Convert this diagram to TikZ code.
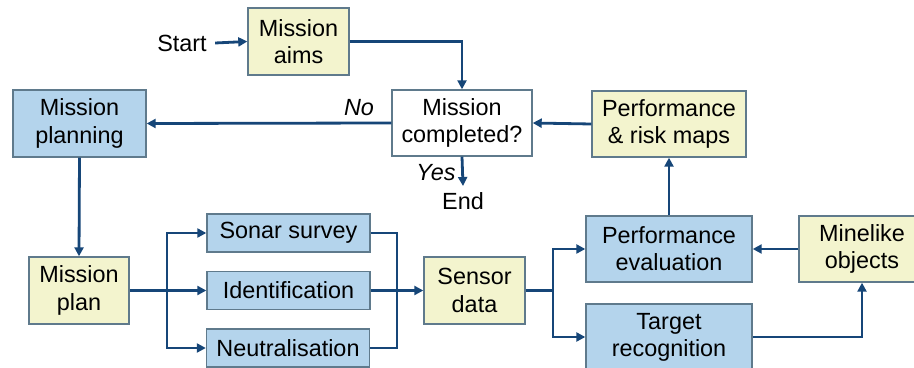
\documentclass[tikz,border=0pt]{standalone}
\usepackage{fontspec}
\setmainfont{Liberation Sans}
\usetikzlibrary{arrows.meta}
\definecolor{bluefill}{RGB}{180,212,236}
\definecolor{yellowfill}{RGB}{243,244,206}
\definecolor{boxborder}{RGB}{95,122,140}
\definecolor{arrowcol}{RGB}{22,70,120}
\begin{document}
\begin{tikzpicture}[x=0.5pt,y=-0.5pt,
  base/.style={draw=boxborder,line width=0.7pt,align=center,inner sep=0pt,
    font=\fontsize{11.7}{13.6}\selectfont},
  bluebox/.style={base,fill=bluefill},
  yellowbox/.style={base,fill=yellowfill},
  whitebox/.style={base,fill=white},
  lbl/.style={inner sep=0pt,font=\fontsize{11.7}{13.6}\selectfont},
  conn/.style={draw=arrowcol,line width=1.4pt},
  arr/.style={conn,-{Triangle[length=4.5pt,width=4.5pt]}}
]
\clip (0,0) rectangle (914,368);
\fill[white] (0,0) rectangle (914,368);

\node[yellowbox,minimum width=101pt*0.5,minimum height=67pt*0.5] (aims) at (298.5,41.5) {Mission\\aims};
\node[whitebox,minimum width=140pt*0.5,minimum height=66pt*0.5] (done) at (462,123) {Mission\\completed?};
\node[bluebox,minimum width=133pt*0.5,minimum height=67pt*0.5] (planning) at (79.5,123.5) {Mission\\planning};
\node[yellowbox,minimum width=100pt*0.5,minimum height=67pt*0.5] (plan) at (79,290.5) {Mission\\plan};
\node[bluebox,minimum width=163pt*0.5,minimum height=38pt*0.5] (sonar) at (288.5,233) {Sonar survey};
\node[bluebox,minimum width=163pt*0.5,minimum height=38pt*0.5] (ident) at (288.5,290.5) {Identification};
\node[bluebox,minimum width=163pt*0.5,minimum height=38pt*0.5] (neutral) at (288,348) {Neutralisation};
\node[yellowbox,minimum width=101pt*0.5,minimum height=67pt*0.5] (sensor) at (474.5,290.5) {Sensor\\data};
\node[yellowbox,minimum width=154pt*0.5,minimum height=66pt*0.5] (risk) at (669,124) {Performance\\\& risk maps};
\node[bluebox,minimum width=166pt*0.5,minimum height=66pt*0.5] (eval) at (669,249) {Performance\\evaluation};
\node[yellowbox,minimum width=126pt*0.5,minimum height=66pt*0.5] (mine) at (862,249) {Minelike\\objects};
\node[bluebox,minimum width=166pt*0.5,minimum height=66pt*0.5] (target) at (669,337) {Target\\recognition};

\node[lbl] (start) at (182,43) {Start};
\node[lbl] (endn) at (463,201) {End};
\node[lbl,font=\fontsize{11.7}{13.6}\selectfont\itshape] (no) at (359,108) {No};
\node[lbl,font=\fontsize{11.7}{13.6}\selectfont\itshape] (yes) at (436,173) {Yes};

\coordinate (b1) at (167,290.5);
\coordinate (m1) at (397,290.5);
\coordinate (b2) at (553,290.5);

\draw[arr] ([xshift=4pt]start.east) -- (aims.west);
\draw[arr] (aims.east) -| (done.north);
\draw[arr] (done.west) -- (planning.east);
\draw[arr] (done.south) -- ([yshift=3pt]endn.north);
\draw[arr] (planning.south) -- (plan.north);
\draw[conn] (plan.east) -- (b1);
\draw[arr] (b1) |- (sonar.west);
\draw[arr] (b1) -- (ident.west);
\draw[arr] (b1) |- (neutral.west);
\draw[conn] (sonar.east) -| (m1);
\draw[conn] (neutral.east) -| (m1);
\draw[arr] (ident.east) -- (sensor.west);
\draw[conn] (sensor.east) -- (b2);
\draw[arr] (b2) |- (eval.west);
\draw[arr] (b2) |- (target.west);
\draw[arr] (eval.north) -- (risk.south);
\draw[arr] (risk.west) -- (done.east);
\draw[arr] (mine.west) -- (eval.east);
\draw[arr] (target.east) -| (mine.south);
\end{tikzpicture}
\end{document}
